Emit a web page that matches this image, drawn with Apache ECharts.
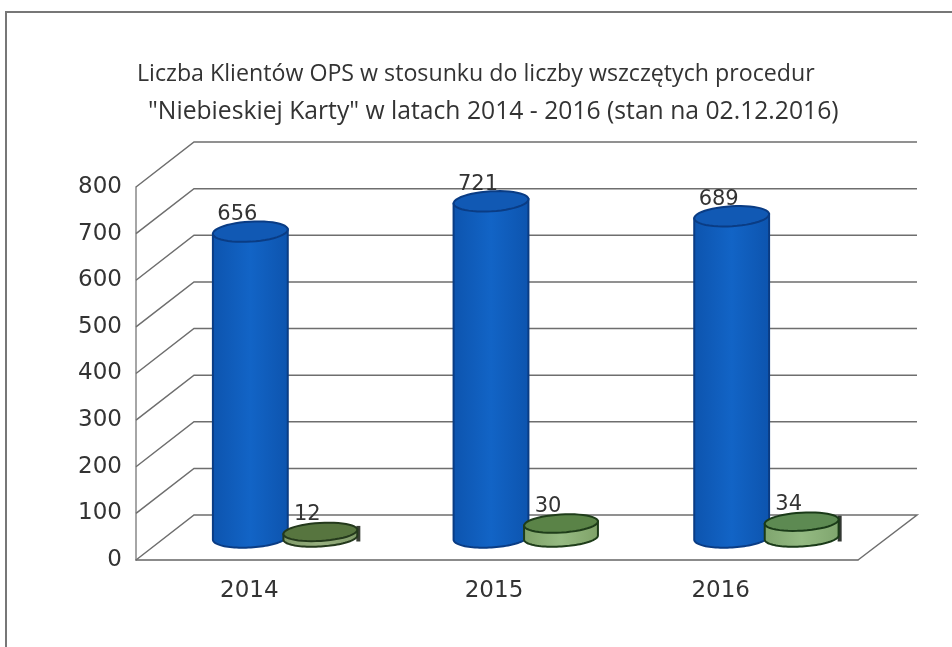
<!DOCTYPE html>
<html><head><meta charset="utf-8">
<style>html,body{margin:0;padding:0;background:#fff}#c{width:952px;height:647px}</style>
<script src="https://cdn.jsdelivr.net/npm/echarts@6/dist/echarts.min.js"></script>
</head><body><div id="c"></div>
<script>
const titleLines = ['Liczba Klientów OPS w stosunku do liczby wszczętych procedur',
                    '"Niebieskiej Karty" w latach 2014 - 2016 (stan na 02.12.2016)'];
const categories = ['2014', '2015', '2016'];
const clients = [656, 721, 689];
const procedures = [12, 30, 34];
const yTicks = [0, 100, 200, 300, 400, 500, 600, 700, 800];

const DEPTH_X = 58, DEPTH_Y = -45;
const TILT = -0.06;
const chart = echarts.init(document.getElementById('c'));
const FONT = 'DejaVu Sans';

function arc(cx, cy, rx, ry, from, to) {
  const pts = [], c = Math.cos(TILT), s = Math.sin(TILT);
  for (let i = 0; i <= 48; i++) {
    const a = from + (to - from) * i / 48;
    const dx = rx * Math.cos(a), dy = ry * Math.sin(a);
    pts.push([cx + dx * c - dy * s, cy + dx * s + dy * c]);
  }
  return pts;
}

function cylinderRenderer(shift, rx, ry, c) {
  return function (params, api) {
    const idx = api.value(0), v = api.value(1);
    const top = api.coord([idx, v]);
    const base = api.coord([idx, 0]);
    const cx = top[0] + DEPTH_X / 2 + shift;
    const yTop = top[1] + DEPTH_Y / 2;
    const yBase = base[1] + DEPTH_Y / 2;
    const col = c[idx];
    const body = arc(cx, yTop, rx, ry, 0, 0).slice(0, 1)
      .concat(arc(cx, yBase, rx, ry, 0, Math.PI));
    body.push(arc(cx, yTop, rx, ry, Math.PI, Math.PI)[0]);
    const children = [];
    if (col.shadow) {
      children.push({ type: 'rect', shape: { x: cx + rx - 1, y: yTop - 6, width: 4, height: yBase - yTop + 10 },
        style: { fill: col.shadow } });
    }
    children.push({
      type: 'polygon', shape: { points: body },
      style: { fill: new echarts.graphic.LinearGradient(0, 0, 1, 0, [
        { offset: 0, color: col.sideA }, { offset: 0.5, color: col.sideB }, { offset: 1, color: col.sideA }]),
        stroke: col.line, lineWidth: 2 }
    }, {
      type: 'polygon', shape: { points: arc(cx, yTop, rx, ry, 0, Math.PI * 2) },
      style: { fill: col.top, stroke: col.line, lineWidth: 2 }
    }, {
      type: 'text', z2: 10,
      style: { text: String(v), x: cx - 13, y: yTop - 17, align: 'center', verticalAlign: 'middle',
        font: '21px "' + FONT + '"', fill: '#333' }
    });
    return { type: 'group', children: children };
  };
}

const blueCols = categories.map(() => ({ sideA: '#0d54ae', sideB: '#1264c6', top: '#1159b4', line: '#0a3c84' }));
const greenCols = [
  { sideA: '#7f9a68', sideB: '#98b080', top: '#57753f', line: '#24391c', shadow: '#3a3f36' },
  { sideA: '#7fa268', sideB: '#96ba82', top: '#5a8347', line: '#1f3d1a' },
  { sideA: '#7fa56e', sideB: '#94ba82', top: '#5d8a52', line: '#1a3a18', shadow: '#333833' }
];

chart.setOption({
  animation: false,
  backgroundColor: '#ffffff',
  title: [
    { text: titleLines[0], left: 132, top: 58, textStyle: { fontFamily: 'Open Sans', fontWeight: 'normal', fontSize: 23.2, color: '#333' } },
    { text: titleLines[1], left: 143, top: 94, textStyle: { fontFamily: 'Open Sans', fontWeight: 'normal', fontSize: 24.7, color: '#333' } }
  ],
  graphic: [
    { type: 'line', shape: { x1: 5, y1: 12, x2: 952, y2: 12 }, style: { stroke: '#777', lineWidth: 2 } },
    { type: 'line', shape: { x1: 6, y1: 12, x2: 6, y2: 647 }, style: { stroke: '#777', lineWidth: 2 } }
  ],
  grid: { left: 136, right: 94, top: 187, bottom: 87 },
  xAxis: {
    type: 'category', data: categories,
    axisTick: { show: false },
    axisLine: { show: true, lineStyle: { color: '#666', width: 1.5 } },
    axisLabel: {
      margin: 20,
      formatter: function (v) { return '{y' + v + '|' + v + '}'; },
      rich: {
        y2014: { fontFamily: FONT, fontSize: 23, color: '#333', padding: [0, 14, 0, 0] },
        y2015: { fontFamily: FONT, fontSize: 23, color: '#333', padding: [0, 6, 0, 0] },
        y2016: { fontFamily: FONT, fontSize: 23, color: '#333', padding: [0, 34, 0, 0] }
      }
    }
  },
  yAxis: {
    type: 'value', min: 0, max: 800, interval: 100,
    splitLine: { show: false }, axisTick: { show: false },
    axisLine: { show: true, lineStyle: { color: '#888', width: 1.5 } },
    axisLabel: { margin: 14, fontFamily: FONT, fontSize: 23, color: '#333' }
  },
  series: [
    {
      type: 'custom', coordinateSystem: 'cartesian2d', silent: true, z: 1,
      data: yTicks.map(t => [0, t]),
      renderItem: function (params, api) {
        const cs = params.coordSys;
        const y = api.coord([0, api.value(1)])[1];
        const L = cs.x, R = cs.x + cs.width;
        const pts = [[L, y], [L + DEPTH_X, y + DEPTH_Y], [R + DEPTH_X + 1, y + DEPTH_Y]];
        if (api.value(1) === 0) pts.push([R, y]);
        return { type: 'polyline', shape: { points: pts },
          style: { fill: null, stroke: '#6e6e6e', lineWidth: 1.5 } };
      }
    },
    { type: 'custom', silent: true, z: 2, data: clients.map((v, i) => [i, v]),
      renderItem: cylinderRenderer(-35, 37.5, 10, blueCols) },
    { type: 'custom', silent: true, z: 3, data: procedures.map((v, i) => [i, v]),
      renderItem: cylinderRenderer(35, 37, 9, greenCols) }
  ]
});
</script></body></html>
